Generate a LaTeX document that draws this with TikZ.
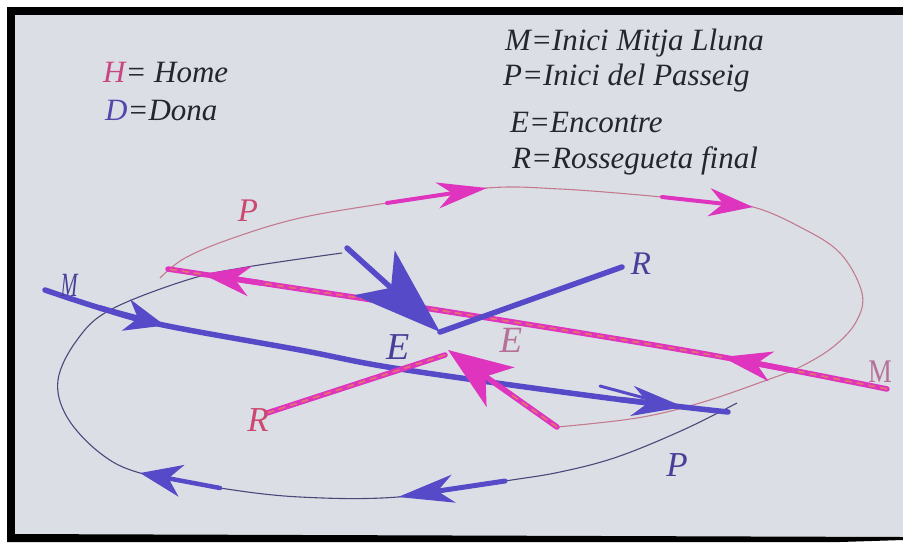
\documentclass[tikz,border=0pt]{standalone}
\usepackage{fontspec}
\setmainfont{Liberation Serif}
\usetikzlibrary{arrows.meta,calc}
\definecolor{paper}{RGB}{219,223,229}
\definecolor{bluemk}{RGB}{86,74,200}
\definecolor{pinkmk}{RGB}{222,52,190}
\definecolor{orangemk}{RGB}{228,112,112}
\definecolor{thinpink}{RGB}{196,122,142}
\definecolor{thinblue}{RGB}{74,72,122}
\definecolor{labelblue}{RGB}{72,64,152}
\definecolor{labelpink}{RGB}{205,72,112}
\definecolor{mauve}{RGB}{182,112,152}
\definecolor{ink}{RGB}{35,38,45}
\definecolor{hpink}{RGB}{200,70,130}
\definecolor{dblue}{RGB}{80,70,172}
\newcommand{\myfs}[1]{\fontsize{#1}{#1}\selectfont}
\begin{document}
\begin{tikzpicture}[x=1pt,y=-1pt,
  thinP/.style={draw=thinpink, line width=1.1pt},
  thinB/.style={draw=thinblue, line width=1.1pt},
  bmark/.style={draw=bluemk, fill=bluemk, line width=5.5pt, line cap=round, line join=round},
  pmark/.style={draw=pinkmk, fill=pinkmk, line width=5.5pt, line cap=round, line join=round},
  pstripe/.style={draw=orangemk, line width=1.8pt, dash pattern=on 7pt off 5pt},
  lab/.style={inner sep=0pt, font=\itshape},
  legend/.style={inner sep=0pt, anchor=base west, text=ink, font=\itshape\myfs{31}}]
\useasboundingbox (0,0) rectangle (903,542);
% background and frame
\fill[white] (0,0) rectangle (903,542);
\fill[paper] (15,15) rectangle (903,537);
\fill[black] (7,7) rectangle (903,15);
\fill[black] (7,7) rectangle (15,542);
\fill[black] (7,534) -- (903,537) -- (903,540) -- (840,542) -- (7,542) -- cycle;

% legend
\node[legend] (legH) at (103,82) {\textcolor{hpink}{H}= Home};
\node[legend] (legD) at (105,120) {\textcolor{dblue}{D}=Dona};
\node[legend] (legM) at (505,50) {M=Inici Mitja Lluna};
\node[legend] (legP) at (503,85) {P=Inici del Passeig};
\node[legend] (legE) at (510,132) {E=Encontre};
\node[legend] (legR) at (512,168) {R=Rossegueta final};

% ---------- coordinates ----------
% blue M line
\coordinate (bM0) at (45,290);
\coordinate (bM1) at (100,308);
\coordinate (bM2) at (163,325);
\coordinate (bM3) at (300,350);
\coordinate (bM4) at (400,369);
\coordinate (bM5) at (600,397);
\coordinate (bM6) at (728,412);
\coordinate (bA1t) at (165,325.5);
\coordinate (bA2s) at (620,399.5);
\coordinate (bA2t) at (684,407);
\coordinate (bF1) at (600,386);
\coordinate (bF2) at (652,400);
% blue thin loop
\coordinate (bL0) at (737,403);
\coordinate (bL1) at (683,430);
\coordinate (bL2) at (617,457);
\coordinate (bL3) at (560,472);
\coordinate (bL4) at (505,481);
\coordinate (bL5) at (398,497);
\coordinate (bL6) at (300,497);
\coordinate (bL7) at (220,488);
\coordinate (bL8) at (140,473);
\coordinate (bL9) at (100,453);
\coordinate (bL10) at (67,417);
\coordinate (bL11) at (58,380);
\coordinate (bL12) at (77,340);
\coordinate (bL13) at (110,310);
\coordinate (bL14) at (187,280);
\coordinate (bL15) at (247,267);
\coordinate (bL16) at (342,253);
% blue E and R
\coordinate (bE0) at (347,248);
\coordinate (bEt) at (440,332);
\coordinate (bR1) at (622,267);
% pink M line
\coordinate (pM0) at (887,389);
\coordinate (pM1) at (700,353);
\coordinate (pM2) at (450,312);
\coordinate (pM3) at (168,269);
\coordinate (pA1s) at (790,370);
\coordinate (pA1t) at (722,357);
\coordinate (pA2s) at (262,283);
\coordinate (pA2t) at (202,274);
% pink thin loop
\coordinate (pL0) at (160,278);
\coordinate (pL1) at (185,258);
\coordinate (pL2) at (233,238);
\coordinate (pL3) at (300,218);
\coordinate (pL4) at (387,203);
\coordinate (pL5) at (487,188);
\coordinate (pL6) at (560,189);
\coordinate (pL7) at (640,195);
\coordinate (pL8) at (700,201);
\coordinate (pL9) at (753,207);
\coordinate (pL10) at (800,227);
\coordinate (pL11) at (840,253);
\coordinate (pL12) at (862,293);
\coordinate (pL13) at (856,322);
\coordinate (pL14) at (833,347);
\coordinate (pL15) at (800,367);
\coordinate (pL16) at (767,380);
\coordinate (pL17) at (700,403);
\coordinate (pL18) at (637,418);
\coordinate (pL19) at (557,427);
\coordinate (pT2s) at (662,197);
% pink E and R
\coordinate (pEt) at (448,350);
\coordinate (pEm) at ($(pL19)!0.45!(pEt)$);
\coordinate (pR0) at (445,355);
\coordinate (pR1) at (267,413);

% ---------- thin loops ----------
\draw[thinP] plot[smooth, tension=0.6] coordinates {(pL0) (pL1) (pL2) (pL3) (pL4) (pL5) (pL6) (pL7) (pL8) (pL9) (pL10) (pL11) (pL12) (pL13) (pL14) (pL15) (pL16) (pL17) (pL18) (pL19)};
\draw[thinB] plot[smooth, tension=0.6] coordinates {(bL0) (bL1) (bL2) (bL3) (bL4) (bL5) (bL6) (bL7) (bL8) (bL9) (bL10) (bL11) (bL12) (bL13) (bL14) (bL15) (bL16)};

% ---------- blue M line ----------
\draw[bmark, fill=none] plot[smooth, tension=0.6] coordinates {(bM0) (bM1) (bM2) (bM3) (bM4) (bM5) (bM6)};
\draw[bmark, -{Stealth[length=40pt,width=32pt,inset=12pt]}] (bM1) -- (bA1t);
\draw[bmark, -{Stealth[length=52pt,width=30pt,inset=16pt]}] (bA2s) -- (bA2t);
\draw[bmark, line width=3pt] (bF1) -- (bF2);

% blue loop arrows
\draw[bmark, line width=4.5pt, -{Stealth[length=42pt,width=32pt,inset=13pt]}] (bL7) -- (bL8);
\draw[bmark, line width=5pt, -{Stealth[length=56pt,width=28pt,inset=16pt]}] (bL4) -- (bL5);

% ---------- pink lines ----------
\draw[pmark] (pR0) -- (pR1);
\draw[pstripe] (pR0) -- (pR1);
\draw[pmark, -{Stealth[length=64pt,width=48pt,inset=18pt]}] (pL19) -- (pEt);
\draw[pstripe] (pL19) -- (pEm);
\draw[pmark, fill=none] plot[smooth, tension=0.6] coordinates {(pM0) (pM1) (pM2) (pM3)};
\draw[pstripe] plot[smooth, tension=0.6] coordinates {(pM0) (pM1) (pM2) (pM3)};
\draw[pmark, -{Stealth[length=50pt,width=30pt,inset=15pt]}] (pA1s) -- (pA1t);
\draw[pmark, -{Stealth[length=48pt,width=30pt,inset=15pt]}] (pA2s) -- (pA2t);
% pink loop arrows
\draw[pmark, line width=4pt, -{Stealth[length=50pt,width=26pt,inset=15pt]}] (pL4) -- (pL5);
\draw[pmark, line width=4pt, -{Stealth[length=44pt,width=28pt,inset=14pt]}] (pT2s) -- (pL9);

% ---------- blue E and R ----------
\draw[bmark, -{Stealth[length=88pt,width=60pt,inset=22pt]}] (bE0) -- (bEt);
\draw[bmark] (bEt) -- (bR1);

% ---------- labels ----------
\node[lab, text=labelblue, font=\itshape\myfs{34}] (tMb) at (69,285) {\scalebox{0.6}[1]{M}};
\node[lab, text=mauve, font=\myfs{33}] (tMp) at (880,372) {\scalebox{0.8}[1]{M}};
\node[lab, text=labelpink, font=\itshape\myfs{33}] (tPp) at (248,211) {P};
\node[lab, text=labelblue, font=\itshape\myfs{35}] (tPb) at (677,465) {P};
\node[lab, text=labelblue, font=\itshape\myfs{38}] (tEb) at (398,347) {E};
\node[lab, text=mauve, font=\itshape\myfs{37}] (tEp) at (511,340) {E};
\node[lab, text=labelblue, font=\itshape\myfs{33}] (tRb) at (641,264) {R};
\node[lab, text=labelpink, font=\itshape\myfs{35}] (tRp) at (258,420) {R};
\end{tikzpicture}
\end{document}
